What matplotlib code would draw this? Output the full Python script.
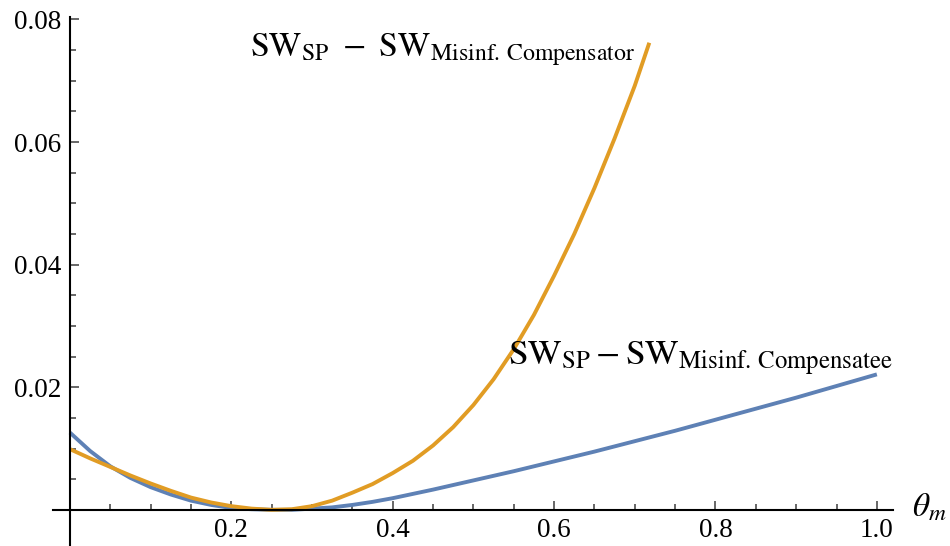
import matplotlib
matplotlib.use("Agg")
import matplotlib.pyplot as plt
from matplotlib.ticker import FixedLocator, FixedFormatter

# values
theta_compensator = [0.0, 0.025, 0.05, 0.075, 0.1, 0.125, 0.15, 0.175, 0.2, 0.225, 0.25,
                     0.275, 0.3, 0.325, 0.35, 0.375, 0.4, 0.425, 0.45, 0.475, 0.5, 0.525,
                     0.55, 0.575, 0.6, 0.625, 0.65, 0.675, 0.7, 0.718]
sw_compensator = [0.0099, 0.0084, 0.0070, 0.0056, 0.0043, 0.0031, 0.0020, 0.0012, 0.0006,
                  0.0002, 0.0000, 0.0001, 0.0006, 0.0015, 0.0028, 0.0042, 0.0060, 0.0080,
                  0.0105, 0.0135, 0.0171, 0.0213, 0.0262, 0.0318, 0.0382, 0.0450, 0.0525,
                  0.0606, 0.0692, 0.0762]

theta_compensatee = [0.0, 0.025, 0.05, 0.075, 0.1, 0.125, 0.15, 0.175, 0.2, 0.225, 0.25,
                     0.275, 0.3, 0.325, 0.35, 0.375, 0.4, 0.425, 0.45, 0.5, 0.55, 0.6, 0.65,
                     0.7, 0.75, 0.8, 0.85, 0.9, 0.95, 1.0]
sw_compensatee = [0.0126, 0.0096, 0.0071, 0.0052, 0.0037, 0.0025, 0.0015, 0.0008, 0.0003,
                  0.0001, 0.0000, 0.0000, 0.0002, 0.0004, 0.0008, 0.0013, 0.0019, 0.0026,
                  0.0033, 0.0048, 0.0063, 0.0079, 0.0095, 0.0112, 0.0129, 0.0147, 0.0165,
                  0.0183, 0.0202, 0.0221]

x_major = [0.2, 0.4, 0.6, 0.8, 1.0]
x_labels = ["0.2", "0.4", "0.6", "0.8", "1.0"]
x_minor = [0.05, 0.1, 0.15, 0.25, 0.3, 0.35, 0.45, 0.5, 0.55, 0.65, 0.7, 0.75, 0.85, 0.9, 0.95]
y_major = [0.02, 0.04, 0.06, 0.08]
y_labels = ["0.02", "0.04", "0.06", "0.08"]
y_minor = [0.005, 0.01, 0.015, 0.025, 0.03, 0.035, 0.045, 0.05, 0.055, 0.065, 0.07, 0.075]

plt.rcParams["mathtext.fontset"] = "stix"
plt.rcParams["font.family"] = "serif"
plt.rcParams["font.serif"] = ["Liberation Serif", "DejaVu Serif"]

fig = plt.figure(figsize=(9.5, 5.46), dpi=100)
ax = fig.add_axes([53 / 950, 0.0, 840 / 950, (546 - 17) / 546])

ax.plot(theta_compensatee, sw_compensatee, color="#5E81B5", lw=2.8,
        solid_capstyle="butt", solid_joinstyle="round")
ax.plot(theta_compensator, sw_compensator, color="#E19C24", lw=2.8,
        solid_capstyle="butt", solid_joinstyle="round")

ax.set_xlim(-0.021, 1.02)
ax.set_ylim(-0.0059, 0.0804)

for side in ["top", "right"]:
    ax.spines[side].set_visible(False)
for side in ["left", "bottom"]:
    ax.spines[side].set_position(("data", 0))
    ax.spines[side].set_linewidth(1.5)

ax.xaxis.set_major_locator(FixedLocator(x_major))
ax.xaxis.set_major_formatter(FixedFormatter(x_labels))
ax.xaxis.set_minor_locator(FixedLocator(x_minor))
ax.yaxis.set_major_locator(FixedLocator(y_major))
ax.yaxis.set_major_formatter(FixedFormatter(y_labels))
ax.yaxis.set_minor_locator(FixedLocator(y_minor))

ax.tick_params(which="both", direction="in", color="#666666", width=1.4, labelsize=19.5)
ax.tick_params(which="major", length=6.5)
ax.tick_params(which="minor", length=4)
ax.tick_params(axis="y", pad=6)
ax.tick_params(axis="x", pad=6)

ax.text(0.223, 0.0742, r"$\mathrm{SW}_{\mathrm{SP}}\ -\ \mathrm{SW}_{\mathrm{Misinf.\,Compensator}}$",
        fontsize=24.5, va="baseline", ha="left")
ax.text(0.543, 0.02365, r"$\mathrm{SW}_{\mathrm{SP}} - \mathrm{SW}_{\mathrm{Misinf.\,Compensatee}}$",
        fontsize=25.5, va="baseline", ha="left")
ax.text(1.043, -0.0011, r"$\theta_m$", fontsize=24, va="baseline", ha="left")

fig.savefig("out.png", dpi=100)
